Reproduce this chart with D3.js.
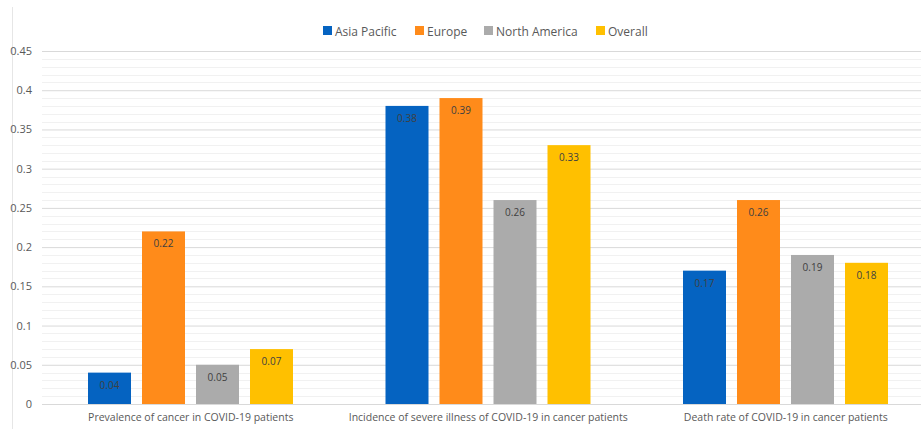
<!DOCTYPE html>
<html><head><meta charset="utf-8">
<script src="https://cdn.jsdelivr.net/npm/d3@7"></script>
<style>body{margin:0;background:#fff}svg{display:block}text{font-family:"Open Sans",sans-serif}</style>
</head><body><svg id="c" width="921" height="429"></svg>
<script>
const categories = ["Prevalence of cancer in COVID-19 patients","Incidence of severe illness of COVID-19 in cancer patients","Death rate of COVID-19 in cancer patients"];
const seriesNames = ["Asia Pacific","Europe","North America","Overall"];
const asiaPacific = [0.04, 0.38, 0.17];
const europe = [0.22, 0.39, 0.26];
const northAmerica = [0.05, 0.26, 0.19];
const overall = [0.07, 0.33, 0.18];
const yTicks = [0,0.05,0.1,0.15,0.2,0.25,0.3,0.35,0.4,0.45];
const colors = ["#0563C1","#FF8B1A","#ABABAB","#FFC000"];
const series = [asiaPacific, europe, northAmerica, overall];

const svg = d3.select("#c");
const x0 = d3.scaleBand().domain(categories).range([42, 934.5]).paddingInner(0).paddingOuter(0);
const y = d3.scaleLinear().domain([0,0.45]).range([404,51]);
const x1 = d3.scaleBand().domain(seriesNames).range([46, 251]).paddingInner(11/54).paddingOuter(0);

// border
svg.append("line").attr("x1",12.5).attr("x2",12.5).attr("y1",7).attr("y2",429).attr("stroke","#e6e6e6");

// minor grid
const minor = d3.range(1,46).map(i=>i/100).filter(v=>Math.round(v*100)%5!==0);
svg.append("g").selectAll("line").data(minor).join("line")
  .attr("x1",42).attr("x2",921).attr("y1",d=>Math.round(y(d))+0.5).attr("y2",d=>Math.round(y(d))+0.5)
  .attr("stroke","#f1f1f1");
// major grid via axis
const yAxis = svg.append("g").attr("transform","translate(42,0)")
  .call(d3.axisLeft(y).tickValues(yTicks).tickSize(-879).tickFormat(d=>d===0?"0":String(+d.toFixed(2))).tickPadding(10));
yAxis.select(".domain").remove();
yAxis.selectAll(".tick line").attr("stroke","#d9d9d9");
yAxis.selectAll(".tick text").attr("fill","#595959").style("font-size","11px").attr("x",-10);

// bars
const g = svg.append("g");
categories.forEach((c,ci)=>{
  series.forEach((s,si)=>{
    const bx = x0(c)+x1(seriesNames[si]);
    g.append("rect").attr("x",bx).attr("y",y(s[ci])).attr("width",x1.bandwidth()).attr("height",y(0)-y(s[ci])).attr("fill",colors[si]);
    g.append("text").attr("x",bx+x1.bandwidth()/2).attr("y",y(s[ci])+16).attr("text-anchor","middle")
      .attr("fill","#404040").style("font-size","10px").text(String(s[ci]));
  });
});

// x axis labels
const xAxis = svg.append("g").attr("transform","translate(0,404)")
  .call(d3.axisBottom(x0).tickSize(0).tickPadding(10));
xAxis.select(".domain").attr("stroke","#d9d9d9");
xAxis.selectAll(".tick text").attr("fill","#595959").style("font-size","10.5px").attr("dy","0.71em");

// legend
const legendX = [323, 415, 484, 596];
const lg = svg.append("g");
seriesNames.forEach((n,i)=>{
  lg.append("rect").attr("x",legendX[i]).attr("y",26).attr("width",9).attr("height",9).attr("fill",colors[i]);
  lg.append("text").attr("x",legendX[i]+12).attr("y",35.5).attr("fill","#595959").style("font-size","12px").text(n);
});
</script></body></html>
